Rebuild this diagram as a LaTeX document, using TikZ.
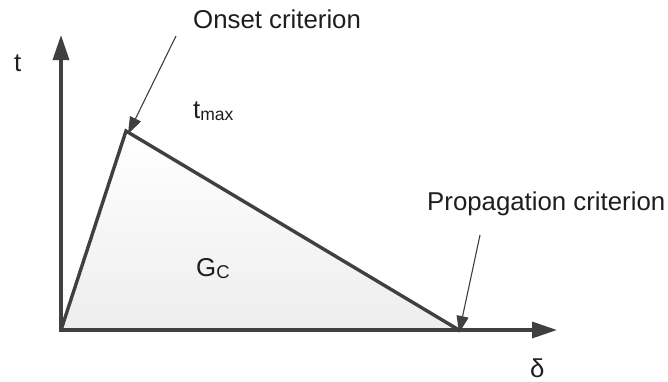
\documentclass[tikz,border=0pt]{standalone}
\usepackage{fontspec}
\setmainfont{Liberation Sans}
\usetikzlibrary{arrows.meta}
\definecolor{linegray}{HTML}{404040}
\definecolor{txt}{HTML}{1E1E1E}
\tikzset{
  axis/.style={line width=3.4pt, draw=linegray, -{Triangle[length=25pt,width=16pt]}},
  curve/.style={line width=3.4pt, draw=linegray, line join=miter},
  pointer/.style={line width=1.1pt, draw=linegray, -{Triangle[length=17pt,width=12pt]}},
  lbl/.style={inner sep=0pt, text=txt, font=\fontsize{25.8}{30}\selectfont},
}
\begin{document}
\begin{tikzpicture}[x=1pt,y=-1pt]
\useasboundingbox (0,0) rectangle (668,381);
\coordinate (O) at (61,330);
\coordinate (P) at (126,131);
\coordinate (E) at (459,330);
\coordinate (ytip) at (61,35);
\coordinate (xtip) at (557,330);
\coordinate (os) at (176,36);
\coordinate (ps) at (480,235);
% shaded area
\shade[top color=white, bottom color=black!7] (O) -- (P) -- (E) -- cycle;
% axes
\draw[axis] (O) -- (ytip);
\draw[axis] ([xshift=-1.7pt]O) -- (xtip);
% curve
\draw[curve] (O) -- (P) -- (E);
% pointers
\draw[pointer] (os) -- ([shift={(2pt,-3pt)}]P);
\draw[pointer] (ps) -- ([yshift=-3pt]E);
% labels
\node[lbl, anchor=base west] (onset) at (193,28) {Onset criterion};
\node[lbl, anchor=base west] (prop) at (427,210) {Propagation criterion};
\node[lbl, anchor=base west] (t) at (14,71) {t};
\node[lbl, anchor=base west] (tmax) at (193,118) {t\raisebox{-2pt}{\fontsize{17.5}{20}\selectfont max}};
\node[lbl, anchor=base west] (gc) at (196,276) {G\raisebox{-2pt}{\fontsize{18.5}{20}\selectfont C}};
\node[lbl, anchor=base west] (delta) at (530,377) {δ};
\end{tikzpicture}
\end{document}
